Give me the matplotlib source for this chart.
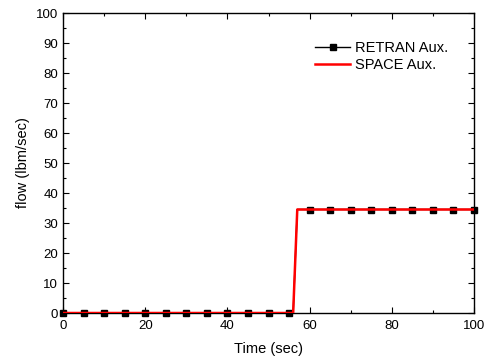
import matplotlib
matplotlib.use("Agg")
import matplotlib.pyplot as plt
from matplotlib.ticker import MultipleLocator

plt.rcParams['font.family'] = ['Liberation Sans', 'DejaVu Sans']

retran_t = [0, 5, 10, 15, 20, 25, 30, 35, 40, 45, 50, 55, 56, 57, 60, 65, 70, 75, 80, 85, 90, 95, 100]
retran_f = [0, 0, 0, 0, 0, 0, 0, 0, 0, 0, 0, 0, 0, 34.5, 34.5, 34.5, 34.5, 34.5, 34.5, 34.5, 34.5, 34.5, 34.5]
retran_marks = [i for i, t in enumerate(retran_t) if t % 5 == 0]
space_t = [0, 56, 57, 100]
space_f = [0, 0, 34.5, 34.5]

fig = plt.figure(figsize=(4.91, 3.58), dpi=100)
ax = fig.add_axes([63/491, 1 - 313/358, (474-63)/491, (313-13)/358])

ax.plot(retran_t, retran_f, color='black', lw=1, marker='s', markersize=5,
        markevery=retran_marks, label='RETRAN Aux.', clip_on=False, zorder=2)
ax.plot(space_t, space_f, color='#ff0000', lw=1.8, label='SPACE Aux.', zorder=3)

ax.set_xlim(0, 100)
ax.set_ylim(0, 100)
ax.xaxis.set_major_locator(MultipleLocator(20))
ax.xaxis.set_minor_locator(MultipleLocator(10))
ax.yaxis.set_major_locator(MultipleLocator(10))
ax.yaxis.set_minor_locator(MultipleLocator(5))
ax.tick_params(which='both', direction='in', top=True, right=True, labelsize=9.5)
ax.tick_params(axis='x', pad=5)
ax.tick_params(which='major', length=4, width=0.8)
ax.tick_params(which='minor', length=2.5, width=0.8)
for s in ax.spines.values():
    s.set_linewidth(1)

ax.set_xlabel('Time (sec)', fontsize=10.5, labelpad=7)
ax.set_ylabel('flow (lbm/sec)', fontsize=10.5, labelpad=4)

ax.legend(loc='upper right', bbox_to_anchor=(0.958, 0.937), frameon=False, fontsize=10.5,
          handlelength=2.4, handletextpad=0.3, labelspacing=0.25, borderaxespad=0.2)

fig.savefig('out.png', dpi=100)
